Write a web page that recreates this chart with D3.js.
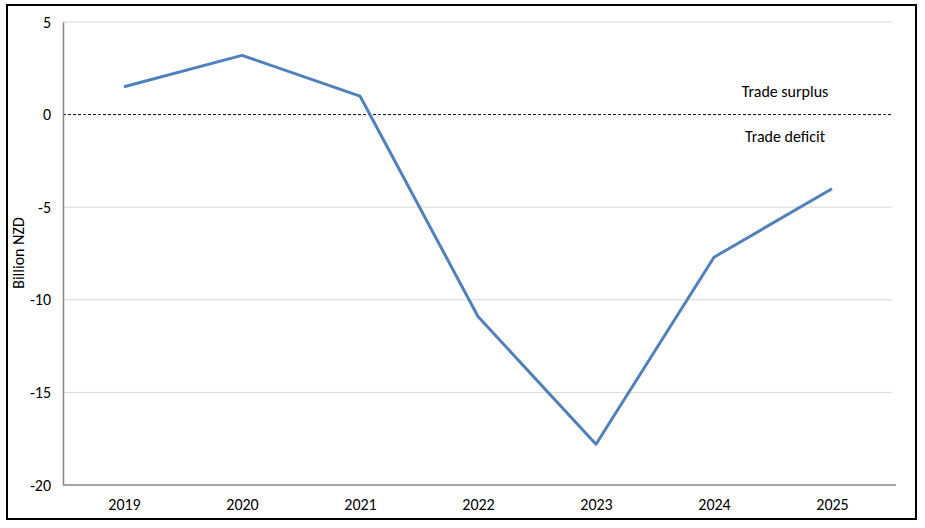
<!DOCTYPE html>
<html>
<head>
<meta charset="utf-8">
<script src="https://cdn.jsdelivr.net/npm/d3@7"></script>
<style>
    body { margin: 0; background: #fff; }
    text { font-family: Calibri, Carlito, Lato, sans-serif; fill: #000; }
</style>
</head>
<body>
<script>

    //years along the bottom
    var years = ["2019", "2020", "2021", "2022", "2023", "2024", "2025"];

    //trade balance in billion NZD
    var balance = [1.5, 3.2, 1.0, -10.9, -17.8, -7.7, -4.0];

    //y ticks
    var yTicks = [5, 0, -5, -10, -15, -20];

    var w = 925, h = 528;

    var svg = d3.select("body")
        .append("svg")
        .attr("width", w)
        .attr("height", h);

    //outer frame
    svg.append("rect")
        .attr("x", 7)
        .attr("y", 5)
        .attr("width", 909)
        .attr("height", 514)
        .style("fill", "none")
        .style("stroke", "#000")
        .style("stroke-width", 2);

    // scales
    var x = d3.scalePoint()
        .domain(years)
        .range([65, 891])
        .padding(0.5);

    var y = d3.scaleLinear()
        .domain([-20, 5])
        .range([485, 22]);

    //gridlines
    svg.selectAll(".grid")
        .data(yTicks.filter(function(d) { return d != 0 && d != -20; }))
        .enter()
        .append("line")
        .attr("class", "grid")
        .attr("x1", 63)
        .attr("x2", 892)
        .attr("y1", function(d) { return y(d); })
        .attr("y2", function(d) { return y(d); })
        .style("stroke", "#d9d9d9")
        .style("stroke-width", 1);

    //zero line, dashed
    svg.append("line")
        .attr("x1", 63)
        .attr("x2", 892)
        .attr("y1", y(0))
        .attr("y2", y(0))
        .style("stroke", "#000")
        .style("stroke-width", 1)
        .style("stroke-dasharray", "3,2");

    //y axis, plain hyphen for negatives
    var yAxis = d3.axisLeft(y)
        .tickValues(yTicks)
        .tickFormat(function(d) { return String(d); })
        .tickSize(0)
        .tickPadding(12);

    var yg = svg.append("g")
        .attr("transform", "translate(63,0)")
        .call(yAxis);
    yg.select(".domain").style("stroke", "#868686").style("stroke-width", 1.5);
    yg.selectAll("text").style("font-size", "16px");

    //x axis sitting at -20
    var xAxis = d3.axisBottom(x)
        .tickSize(0)
        .tickPadding(14);

    var xg = svg.append("g")
        .attr("transform", "translate(0," + y(-20) + ")")
        .call(xAxis);
    xg.select(".domain")
        .attr("d", "M63,0H896")
        .style("stroke", "#868686")
        .style("stroke-width", 1.5);
    xg.selectAll("text").style("font-size", "16px");

    //the line
    var line = d3.line()
        .x(function(d, i) { return x(years[i]); })
        .y(function(d) { return y(d); });

    svg.append("path")
        .datum(balance)
        .attr("d", line)
        .style("fill", "none")
        .style("stroke", "#4f81bd")
        .style("stroke-width", 3)
        .style("stroke-linejoin", "round");

    //surplus / deficit labels
    svg.append("text")
        .attr("x", 785)
        .attr("y", y(0) - 18)
        .attr("text-anchor", "middle")
        .style("font-size", "16px")
        .text("Trade surplus");

    svg.append("text")
        .attr("x", 785)
        .attr("y", y(0) + 27)
        .attr("text-anchor", "middle")
        .style("font-size", "16px")
        .text("Trade deficit");

    //y axis title
    svg.append("text")
        .attr("transform", "translate(24,253) rotate(-90)")
        .attr("text-anchor", "middle")
        .style("font-size", "16px")
        .text("Billion NZD");

</script>
</body>
</html>
